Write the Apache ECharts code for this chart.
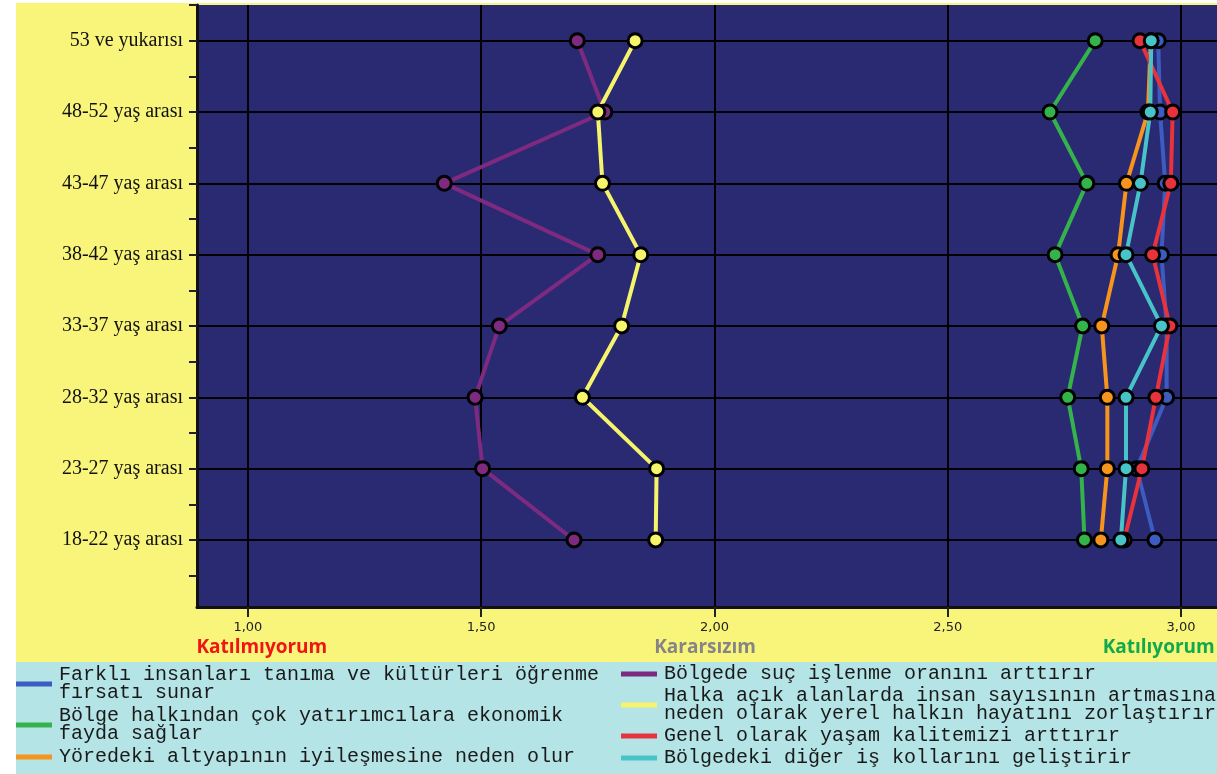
<!DOCTYPE html>
<html>
<head>
<meta charset="utf-8">
<script src="https://cdn.jsdelivr.net/npm/echarts@6/dist/echarts.min.js"></script>
<style>
html,body{margin:0;padding:0;background:#ffffff;}
#chart{width:1217px;height:774px;}
</style>
</head>
<body>
<div id="chart"></div>
<script>
// Categories (top to bottom)
const ages = ['53 ve yukarısı','48-52 yaş arası','43-47 yaş arası','38-42 yaş arası','33-37 yaş arası','28-32 yaş arası','23-27 yaş arası','18-22 yaş arası'];
// X tick labels
const xTicks = [1.0, 1.5, 2.0, 2.5, 3.0];
const scaleWords = ['Katılmıyorum', 'Kararsızım', 'Katılıyorum'];

// Series values (mean scores, top to bottom)
const blueVals   = [2.951, 2.955, 2.966, 2.958, 2.969, 2.969, 2.905, 2.944];
const greenVals  = [2.816, 2.719, 2.798, 2.730, 2.789, 2.757, 2.786, 2.793];
const orangeVals = [2.935, 2.929, 2.883, 2.865, 2.830, 2.842, 2.842, 2.828];
const purpleVals = [1.706, 1.765, 1.421, 1.750, 1.539, 1.487, 1.503, 1.699];
const yellowVals = [1.830, 1.750, 1.760, 1.842, 1.801, 1.717, 1.876, 1.874];
const redVals    = [2.912, 2.982, 2.978, 2.939, 2.976, 2.946, 2.916, 2.878];
const cyanVals   = [2.936, 2.934, 2.913, 2.882, 2.958, 2.882, 2.882, 2.871];

const names = {
  blue: 'Farklı insanları tanıma ve kültürleri öğrenme fırsatı sunar',
  green: 'Bölge halkından çok yatırımcılara ekonomik fayda sağlar',
  orange: 'Yöredeki altyapının iyileşmesine neden olur',
  purple: 'Bölgede suç işlenme oranını arttırır',
  yellow: 'Halka açık alanlarda insan sayısının artmasına neden olarak yerel halkın hayatını zorlaştırır',
  red: 'Genel olarak yaşam kalitemizi arttırır',
  cyan: 'Bölgedeki diğer iş kollarını geliştirir'
};
const legendText = {};
legendText[names.blue] = 'Farklı insanları tanıma ve kültürleri öğrenme\nfırsatı sunar';
legendText[names.green] = 'Bölge halkından çok yatırımcılara ekonomik\nfayda sağlar';
legendText[names.orange] = names.orange;
legendText[names.purple] = names.purple;
legendText[names.yellow] = 'Halka açık alanlarda insan sayısının artmasına\nneden olarak yerel halkın hayatını zorlaştırır';
legendText[names.red] = names.red;
legendText[names.cyan] = names.cyan;

const colors = {
  blue: '#3d5cbf', green: '#34b34a', orange: '#f7941d', purple: '#7d2a80',
  yellow: '#f6f46a', red: '#e8323c', cyan: '#48c4c8'
};

const n = ages.length;
const yVal = i => n - i;
const majorY = ages.map((a, i) => yVal(i));
const halfY = [];
for (let v = 0.5; v <= 8.5; v += 0.5) halfY.push(v);

function mkSeries(key, vals) {
  return {
    name: names[key],
    type: 'line',
    data: vals.map((v, i) => [v, yVal(i)]),
    symbol: 'circle',
    symbolSize: 14,
    lineStyle: { color: colors[key], width: 4 },
    itemStyle: { color: colors[key], borderColor: '#000', borderWidth: 3 },
    color: colors[key],
    emphasis: { disabled: true },
    animation: false
  };
}

const legendBase = {
  orient: 'vertical', padding: 0, height: 120,
  icon: 'rect', itemWidth: 36, itemHeight: 5,
  itemStyle: { borderWidth: 0 },
  formatter: nm => legendText[nm],
  textStyle: { fontFamily: 'Liberation Mono', fontSize: 20, lineHeight: 18, color: '#1a1a1a', padding: [0, 0, 0, 2] },
  selectedMode: false
};

const chart = echarts.init(document.getElementById('chart'), null, { renderer: 'canvas' });
const option = {
  animation: false,
  backgroundColor: '#ffffff',
  graphic: [
    { type: 'rect', z: -10, shape: { x: 16, y: 3, width: 1201, height: 659 }, style: { fill: '#f9f57a' } },
    { type: 'rect', z: -10, shape: { x: 16, y: 662, width: 1201, height: 112 }, style: { fill: '#b4e4e6' } }
  ],
  grid: { left: 197, right: 0, top: 5, bottom: 167, show: true, backgroundColor: '#292a72', borderWidth: 0,
    containLabel: false, outerBoundsMode: 'none' },
  xAxis: [
    {
      type: 'value', min: 0.891, max: 3.077,
      axisLine: { show: true, lineStyle: { color: '#111', width: 3 } },
      axisTick: { show: true, customValues: xTicks, length: 10, lineStyle: { color: '#222', width: 2 } },
      axisLabel: { customValues: xTicks, margin: 14, color: '#222', fontFamily: 'DejaVu Sans', fontSize: 13,
        formatter: v => v.toFixed(2).replace('.', ',') },
      splitLine: { show: true, lineStyle: { color: '#000', width: 2 } }
    },
    {
      type: 'value', min: 0.891, max: 3.077, position: 'bottom',
      axisLine: { show: false }, axisTick: { show: false }, splitLine: { show: false },
      axisLabel: {
        customValues: [1.03, 1.98, 2.952], margin: 31, fontFamily: 'Open Sans', fontWeight: 'bold', fontSize: 19,
        formatter: (v) => {
          if (v < 1.5) return '{a|' + scaleWords[0] + '}';
          if (v < 2.5) return '{b|' + scaleWords[1] + '}';
          return '{c|' + scaleWords[2] + '}';
        },
        rich: {
          a: { color: '#f01414', fontFamily: 'Open Sans', fontWeight: 'bold', fontSize: 19 },
          b: { color: '#858585', fontFamily: 'Open Sans', fontWeight: 'bold', fontSize: 19 },
          c: { color: '#12a94c', fontFamily: 'Open Sans', fontWeight: 'bold', fontSize: 19 }
        }
      }
    }
  ],
  yAxis: [
    {
      type: 'value', min: 0.06, max: 8.5,
      axisLine: { show: true, lineStyle: { color: '#111', width: 3 } },
      axisTick: { show: true, customValues: halfY, length: 8, lineStyle: { color: '#222', width: 2 } },
      axisLabel: { customValues: majorY, margin: 14, color: '#111', fontFamily: 'Liberation Serif', fontSize: 20,
        formatter: v => ages[n - Math.round(v)] },
      splitLine: { show: false }
    },
    {
      type: 'value', min: 0.06, max: 8.5, position: 'left',
      axisLine: { show: false },
      axisTick: { show: false, customValues: majorY },
      axisLabel: { show: false, customValues: majorY },
      splitLine: { show: true, lineStyle: { color: '#000', width: 2 } }
    }
  ],
  legend: [
    Object.assign({}, legendBase, { left: 16, top: 665, itemGap: 3, data: [names.blue, names.green, names.orange] }),
    Object.assign({}, legendBase, { left: 621, top: 664, itemGap: 2, data: [names.purple, names.yellow, names.red, names.cyan] })
  ],
  series: [
    mkSeries('blue', blueVals),
    mkSeries('green', greenVals),
    mkSeries('orange', orangeVals),
    mkSeries('red', redVals),
    mkSeries('purple', purpleVals),
    mkSeries('yellow', yellowVals),
    mkSeries('cyan', cyanVals)
  ]
};
chart.setOption(option);
</script>
</body>
</html>
